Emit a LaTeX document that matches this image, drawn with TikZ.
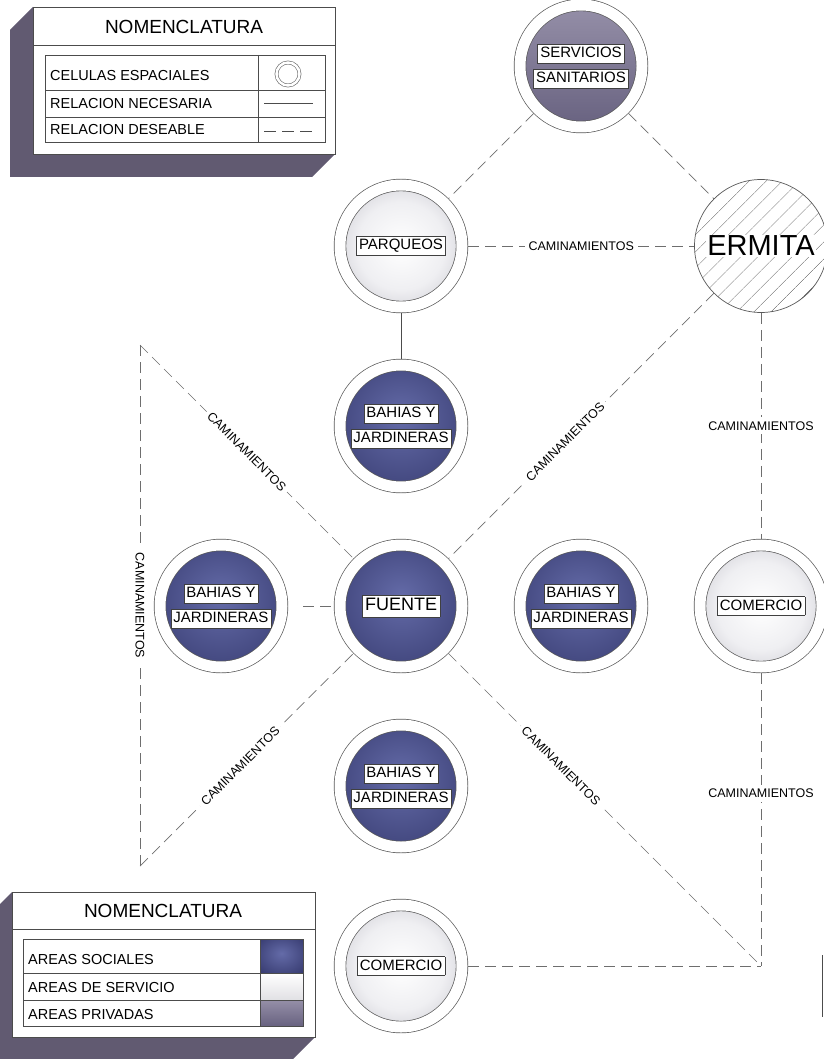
\documentclass[tikz,border=0pt]{standalone}
\usepackage{fontspec}
\setmainfont{Liberation Sans}
\usepackage{xcolor}
\usepackage{tikz}
\usetikzlibrary{positioning, patterns.meta}
\definecolor{socialdark}{HTML}{25285A}
\definecolor{sociallight}{HTML}{646BA8}
\definecolor{servicemid}{HTML}{EFEFF2}
\definecolor{servicedark}{HTML}{9B99A6}
\definecolor{privatelight}{HTML}{958FA8}
\definecolor{privatedark}{HTML}{686280}
\definecolor{shadowgray}{HTML}{615A71}
\definecolor{linegray}{HTML}{6E6E6E}
\pgfdeclareradialshading{socialball}{\pgfpoint{0bp}{4bp}}{color(0bp)=(sociallight); color(50bp)=(socialdark)}
\pgfdeclareradialshading{serviceball}{\pgfpoint{0bp}{0bp}}{color(0bp)=(white); color(18bp)=(servicemid); color(50bp)=(servicedark)}
\newcommand{\celltag}[1]{{\setlength{\fboxsep}{2.5pt}\setlength{\fboxrule}{0.4pt}\fcolorbox{black!75}{white}{\rule[-0.18em]{0pt}{0.9em}#1}}}

\begin{document}
\begin{tikzpicture}[
  x=1pt, y=-1pt,
  node distance=180pt, on grid,
  cell/.style={circle, draw=black!65, line width=0.7pt, double=white, double distance=11pt, minimum size=122pt, inner sep=0pt, outer sep=6.2pt, align=center, font=\fontsize{15}{17}\selectfont},
  social/.style={cell, shade, shading=socialball},
  service/.style={cell, shade, shading=serviceball},
  private/.style={cell, top color=privatelight, bottom color=privatedark},
  hatched/.style={circle, draw=black!65, line width=0.7pt, minimum size=133pt, inner sep=0pt, pattern={Lines[angle=45, distance=13pt, line width=0.6pt]}, pattern color=black!70, font=\fontsize{29}{32}\selectfont},
  necesaria/.style={draw=black!70, line width=0.8pt},
  deseable/.style={draw=linegray, line width=0.7pt, dash pattern=on 11pt off 6pt},
  ruta/.style={fill=white, inner sep=4pt, font=\fontsize{12.5}{14}\selectfont},
  leyenda/.style={anchor=west, inner sep=0pt, font=\fontsize{14.5}{17}\selectfont},
  titulo/.style={inner sep=0pt, font=\fontsize{19}{22}\selectfont},
  marco/.style={draw=black!70, line width=0.7pt},
]
  \useasboundingbox (0,0) rectangle (823,1059);

  \fill[shadowgray] (33,7) -- (10,30) -- (10,177) -- (312,177) -- (335,154) -- cycle;
  \draw[marco, fill=white] (33,7) rectangle (335,154);
  \draw[marco] (33,45) -- (335,45);
  \node[titulo] (nomen1) at (184,27) {NOMENCLATURA};
  \draw[marco, line width=0.6pt] (45,55) rectangle (325,142) (258,55) -- (258,142) (45,90) -- (325,90) (45,117) -- (325,117);
  \node[leyenda] (celulas) at (50,76) {CELULAS ESPACIALES};
  \node[leyenda] (relnec) at (50,104) {RELACION NECESARIA};
  \node[leyenda] (reldes) at (50,130) {RELACION DESEABLE};
  \node[circle, draw=black!60, line width=0.6pt, double=white, double distance=2.5pt, minimum size=23pt, inner sep=0pt] (celda) at (288,74) {};
  \draw[necesaria] (264,103) -- (313,103);
  \draw[necesaria, dash pattern=on 12pt off 6pt] (264,131) -- (313,131);

  \fill[shadowgray] (12,892) -- (0,904) -- (0,1059) -- (293,1059) -- (315,1037) -- cycle;
  \draw[marco, fill=white] (12,892) rectangle (315,1037);
  \draw[marco] (12,929) -- (315,929);
  \node[titulo] (nomen2) at (163,911) {NOMENCLATURA};
  \shade[shading=socialball] (260,939) rectangle (303,973);
  \shade[top color=white, bottom color=white!70!servicedark] (260,973) rectangle (303,1000);
  \shade[top color=privatelight, bottom color=privatedark] (260,1000) rectangle (303,1026);
  \draw[marco, line width=0.6pt] (23,939) rectangle (303,1026) (260,939) -- (260,1026) (23,973) -- (303,973) (23,1000) -- (303,1000);
  \node[leyenda] (sociales) at (28,959) {AREAS SOCIALES};
  \node[leyenda] (servicio) at (28,987) {AREAS DE SERVICIO};
  \node[leyenda] (privadas) at (28,1014) {AREAS PRIVADAS};

  \node[social, font=\fontsize{18}{20}\selectfont] (fuente) at (401,606) {\celltag{FUENTE}};
  \node[social, left=of fuente] (bahiasw) {\celltag{BAHIAS Y}\\[5pt]\celltag{JARDINERAS}};
  \node[social, right=of fuente] (bahiase) {\celltag{BAHIAS Y}\\[5pt]\celltag{JARDINERAS}};
  \node[social, above=of fuente] (bahiasn) {\celltag{BAHIAS Y}\\[5pt]\celltag{JARDINERAS}};
  \node[social, below=of fuente] (bahiass) {\celltag{BAHIAS Y}\\[5pt]\celltag{JARDINERAS}};
  \node[service, below=of bahiass] (comercios) {\celltag{COMERCIO}};
  \node[service, right=360pt of fuente] (comercioe) {\celltag{COMERCIO}};
  \node[service, above=of bahiasn] (parqueos) {\celltag{PARQUEOS}};
  \node[private, above right=180pt and 180pt of parqueos] (servicios) {\celltag{SERVICIOS}\\[5pt]\celltag{SANITARIOS}};
  \node[hatched, right=360pt of parqueos] (ermita) {{\setlength{\fboxsep}{1pt}\colorbox{white}{ERMITA}}};
  \coordinate[right=360pt of comercios] (giro);
  \coordinate[above left=261pt and 261pt of fuente] (esquinan);
  \coordinate[below left=260pt and 261pt of fuente] (esquinas);

  \draw[deseable] (servicios) -- (parqueos);
  \draw[deseable] (servicios) -- (ermita);
  \draw[deseable] (parqueos) -- node[ruta] (caminopq) {CAMINAMIENTOS} (ermita);
  \draw[necesaria] (parqueos) -- (bahiasn);
  \draw[deseable] (ermita) -- node[ruta, sloped, pos=0.56] (caminoef) {CAMINAMIENTOS} (fuente);
  \draw[deseable] (ermita) -- node[ruta] (caminoec) {CAMINAMIENTOS} (comercioe);
  \draw[deseable] (comercioe) -- node[ruta, pos=0.41] (caminocg) {CAMINAMIENTOS} (giro);
  \draw[deseable] (fuente) -- node[ruta, sloped, pos=0.36] (caminofg) {CAMINAMIENTOS} (giro);
  \draw[deseable] (comercios) -- (giro);
  \draw[deseable] (esquinan) -- node[ruta, sloped] (caminonf) {CAMINAMIENTOS} (fuente);
  \draw[deseable] (esquinan) -- node[ruta, sloped] (caminons) {CAMINAMIENTOS} (esquinas);
  \draw[deseable] (esquinas) -- node[ruta, sloped, pos=0.47] (caminosf) {CAMINAMIENTOS} (fuente);
  \draw[deseable, shorten <=15pt] (bahiasw) -- (fuente);
  \draw[necesaria] (822,955) -- (822,1017);

\end{tikzpicture}
\end{document}
